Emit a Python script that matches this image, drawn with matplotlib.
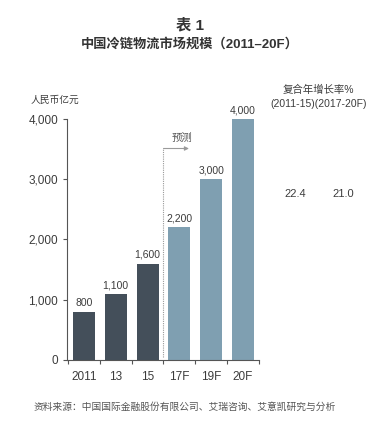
import matplotlib
matplotlib.use("Agg")
import matplotlib.pyplot as plt

plt.rcParams['font.family'] = ['Liberation Sans', 'Noto Sans CJK SC', 'DejaVu Sans']

# data
categories = ["2011", "13", "15", "17F", "19F", "20F"]
values = [800, 1100, 1600, 2200, 3000, 4000]
value_labels = ["800", "1,100", "1,600", "2,200", "3,000", "4,000"]
forecast = [False, False, False, True, True, True]
cagr_labels = ["22.4", "21.0"]

dark = "#444f5a"
light = "#7f9fb1"
txt = "#3c3c3c"

fig = plt.figure(figsize=(3.79, 4.26), dpi=100)
ax = fig.add_axes([0.1768, 0.155, 0.5066, 0.5657])

x = list(range(len(categories)))
colors = [light if f else dark for f in forecast]
ax.bar(x, values, width=0.69, color=colors)

for xi, v, lab in zip(x, values, value_labels):
    ax.text(xi, v + 60, lab, ha="center", va="bottom", fontsize=7.5, color=txt)

ax.set_xlim(-0.53, 5.47)
ax.set_ylim(0, 4000)
ax.set_yticks([0, 1000, 2000, 3000, 4000])
ax.set_yticklabels(["0", "1,000", "2,000", "3,000", "4,000"], fontsize=8.5, color=txt)
ax.set_xticks([i - 0.5 for i in range(7)])
ax.set_xticklabels([])
ax.set_xticks(x, minor=True)
ax.set_xticklabels(categories, minor=True, fontsize=8.5, color=txt)
ax.tick_params(axis="x", which="minor", length=0, pad=8)
ax.tick_params(axis="x", which="major", length=3, width=0.8, color="#555555")
ax.tick_params(axis="y", length=3, width=0.8, color="#555555")
for s in ["top", "right"]:
    ax.spines[s].set_visible(False)
for s in ["left", "bottom"]:
    ax.spines[s].set_color("#555555")
    ax.spines[s].set_linewidth(0.8)

# forecast marker
ax.plot([2.5, 2.5], [55, 3510], linestyle=(0, (1, 1)), color="#9a9a9a", lw=0.8)
ax.annotate("", xy=(3.3, 3510), xytext=(2.5, 3510),
            arrowprops=dict(arrowstyle="-|>", color="#9a9a9a", lw=0.8,
                            mutation_scale=6, shrinkA=0, shrinkB=0))
ax.text(2.75, 3600, "预测", fontsize=7.5, style="italic", color="#555555",
        ha="left", va="bottom")

# titles
fig.text(0.5, 0.94, "表 1", ha="center", va="center", fontsize=11,
         fontweight="bold", color="#333333")
fig.text(0.5, 0.895, "中国冷链物流市场规模（2011–20F）", ha="center", va="center",
         fontsize=9.5, fontweight="bold", color="#333333")
fig.text(0.08, 0.765, "人民币亿元", ha="left", va="center", fontsize=7, color=txt)

fig.text(0.84, 0.79, "复合年增长率%", ha="center", va="center", fontsize=7.5, color=txt)
fig.text(0.84, 0.755, "(2011-15)(2017-20F)", ha="center", va="center",
         fontsize=7.5, color=txt)
fig.text(0.78, 0.545, cagr_labels[0], ha="center", va="center", fontsize=8, color=txt)
fig.text(0.905, 0.545, cagr_labels[1], ha="center", va="center", fontsize=8, color=txt)

fig.text(0.088, 0.045, "资料来源：中国国际金融股份有限公司、艾瑞咨询、艾意凯研究与分析",
         ha="left", va="center", fontsize=7, color="#555555")

fig.savefig("out.png", dpi=100)
